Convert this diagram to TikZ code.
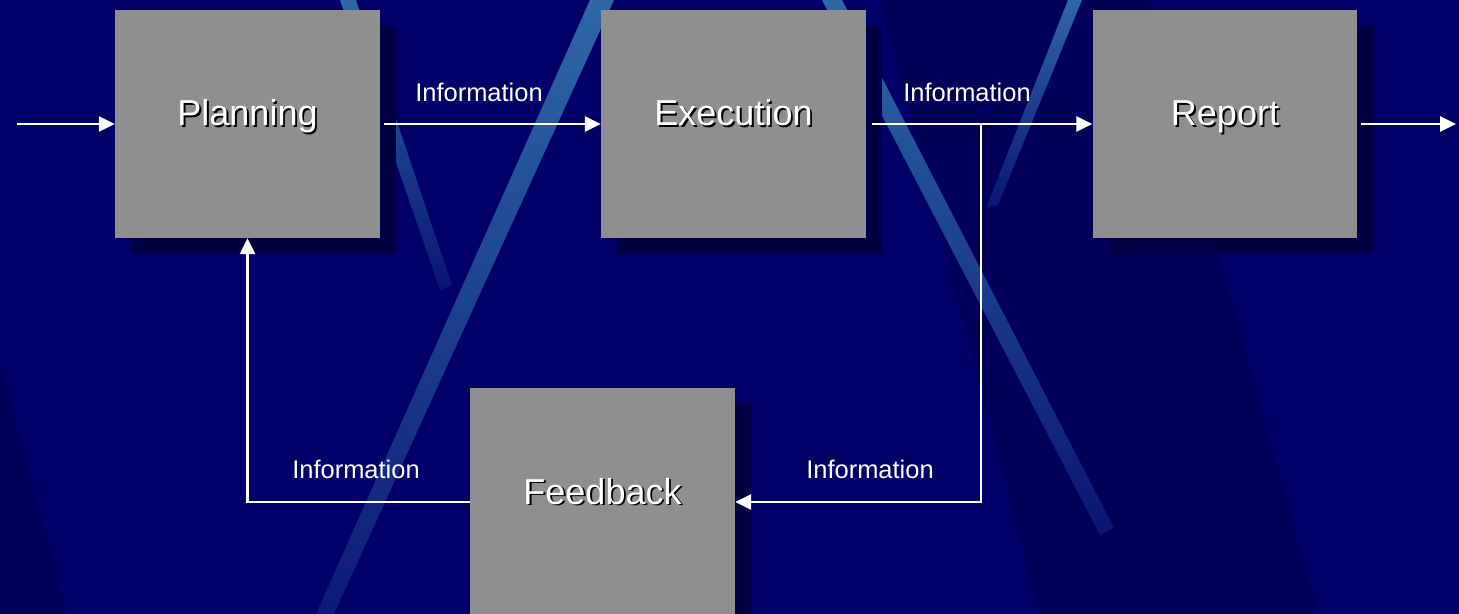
\documentclass[tikz,border=0pt]{standalone}
\usepackage{fontspec}
\setmainfont{Liberation Sans}
\usetikzlibrary{arrows.meta,shadows}

\definecolor{slidebg}{RGB}{0,0,104}
\definecolor{slidedark}{RGB}{0,0,88}
\definecolor{streak}{RGB}{46,104,166}
\definecolor{boxgray}{RGB}{143,143,143}
\definecolor{boxshade}{RGB}{0,0,66}

% white text with a small black drop shadow
\newcommand{\shtext}[1]{\rlap{\kern1.1pt\raisebox{-1.1pt}{\color{black}#1}}#1}

\begin{document}
\begin{tikzpicture}[x=0.02cm, y=-0.02cm,
    stage/.style={fill=boxgray, minimum width=5.3cm, minimum height=4.56cm, inner sep=0pt,
      text=white, font=\fontsize{20.5}{24}\selectfont, text height=0.6cm, text depth=0.52cm,
      general shadow={fill=boxshade, shadow xshift=0.32cm, shadow yshift=-0.32cm}},
    flow/.style={draw=white, line width=1.6pt, -{Triangle[length=9pt, width=8.5pt]}},
    info/.style={text=white, font=\fontsize{14.5}{17}\selectfont, inner sep=0pt}]
	\useasboundingbox (0,0) rectangle (1459,614);
	\clip (0,0) rectangle (1459,614);

	% Slide background
	\fill[slidebg] (0,0) rectangle (1459,614);
	\fill[slidedark] (880,0) -- (1148,0) -- (1318,614) -- (1040,614) -- cycle;
	\fill[slidedark] (0,363) -- (67,614) -- (0,614) -- cycle;

	% Light streaks
	\shade[top color=streak, bottom color=slidebg!75!streak] (590,0) -- (614,0) -- (334,614) -- (316,614) -- cycle;
	\shade[top color=streak, bottom color=slidebg!80!streak] (822,0) -- (842,0) -- (1114,528) -- (1100,535) -- cycle;
	\shade[top color=streak, bottom color=slidebg!80!streak] (1068,0) -- (1082,0) -- (998,205) -- (986,208) -- cycle;
	\shade[top color=streak, bottom color=slidebg!80!streak] (340,0) -- (356,0) -- (452,285) -- (440,290) -- cycle;

	% Stages
	\node[stage] (plan) at (247.5,124) {\shtext{Planning}};
	\node[stage] (exec) at (733.5,124) {\shtext{Execution}};
	\node[stage] (rep) at (1225,124) {\shtext{Report}};
	\node[stage] (feed) at (602.5,502) {\shtext{Feedback}};

	% Free ends
	\coordinate (in) at (17,124);
	\coordinate (out) at (1456,124);
	\coordinate (split) at (981,124);

	% Main flow
	\draw[flow] (in) -- (plan.west);
	\draw[flow, shorten <=2pt] (plan.east) -- (exec.west);
	\draw[flow, shorten <=3pt] (exec.east) -- (rep.west);
	\draw[flow, shorten <=2pt] (rep.east) -- (out);

	% Feedback loop
	\draw[flow] (split) |- (feed.east);
	\draw[flow] (feed.west) -| (plan.south);

	% Labels
	\node[info] (info1) at (479,92) {Information};
	\node[info] (info2) at (967,92) {Information};
	\node[info] (info3) at (356,469) {Information};
	\node[info] (info4) at (870,469) {Information};
\end{tikzpicture}
\end{document}
